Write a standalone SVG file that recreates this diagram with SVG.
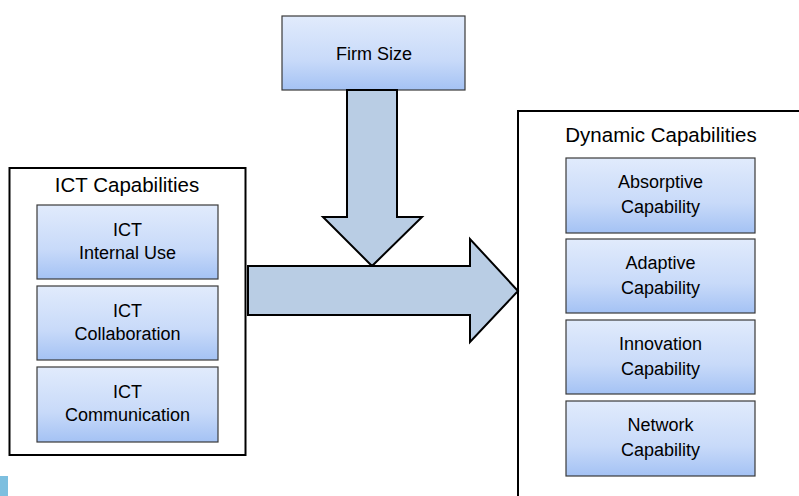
<svg xmlns="http://www.w3.org/2000/svg" width="799" height="496" viewBox="0 0 799 496">
<defs>
<linearGradient id="g" x1="0" y1="0" x2="0" y2="1">
<stop offset="0" stop-color="#e1ebfc"/>
<stop offset="0.6" stop-color="#c8daf9"/>
<stop offset="1" stop-color="#a4c2f4"/>
</linearGradient>
</defs>
<style>
.box{fill:url(#g);stroke:#3a3a3a;stroke-width:1.2}
.cont{fill:#fff;stroke:#000;stroke-width:2}
.arr{fill:#b9cde4;stroke:#000;stroke-width:2;stroke-linejoin:miter}
text{font-family:"Liberation Sans",Arial,sans-serif;fill:#000;text-anchor:middle}
.t{font-size:18px}
.h{font-size:20.5px}
</style>
<rect width="799" height="496" fill="#fff"/>
<g id="ict-capabilities">
<rect class="cont" x="9.5" y="168" width="236" height="287"/>
<text class="h" x="127" y="192">ICT Capabilities</text>
</g>
<g id="ict-internal-use">
<rect class="box" x="37" y="205" width="181" height="74"/>
<text class="t" x="127.5" y="236">ICT</text>
<text class="t" x="127.5" y="259">Internal Use</text>
</g>
<g id="ict-collaboration">
<rect class="box" x="37" y="286" width="181" height="74"/>
<text class="t" x="127.5" y="317">ICT</text>
<text class="t" x="127.5" y="340">Collaboration</text>
</g>
<g id="ict-communication">
<rect class="box" x="37" y="367" width="181" height="75"/>
<text class="t" x="127.5" y="398">ICT</text>
<text class="t" x="127.5" y="421">Communication</text>
</g>
<g id="dynamic-capabilities">
<rect class="cont" x="518" y="111" width="300" height="400"/>
<text class="h" x="661" y="142">Dynamic Capabilities</text>
</g>
<g id="absorptive">
<rect class="box" x="566" y="158" width="189" height="75"/>
<text class="t" x="660.5" y="188">Absorptive</text>
<text class="t" x="660.5" y="213">Capability</text>
</g>
<g id="adaptive">
<rect class="box" x="566" y="239" width="189" height="74"/>
<text class="t" x="660.5" y="269">Adaptive</text>
<text class="t" x="660.5" y="294">Capability</text>
</g>
<g id="innovation">
<rect class="box" x="566" y="320" width="189" height="74"/>
<text class="t" x="660.5" y="350">Innovation</text>
<text class="t" x="660.5" y="375">Capability</text>
</g>
<g id="network">
<rect class="box" x="566" y="401" width="189" height="75"/>
<text class="t" x="660.5" y="431">Network</text>
<text class="t" x="660.5" y="456">Capability</text>
</g>
<g id="firm-size">
<rect class="box" x="282" y="16" width="183" height="74"/>
<text class="t" x="374" y="60">Firm Size</text>
</g>
<g id="connectors">
<polygon class="arr" points="347,90 397,90 397,217 422,217 372,266 323,217 347,217"/>
<polygon class="arr" points="248,266 470,266 470,239 518,291 470,342 470,315 248,315"/>
</g>
<rect x="0" y="476" width="8" height="20" fill="#7dbfdf"/>
</svg>
